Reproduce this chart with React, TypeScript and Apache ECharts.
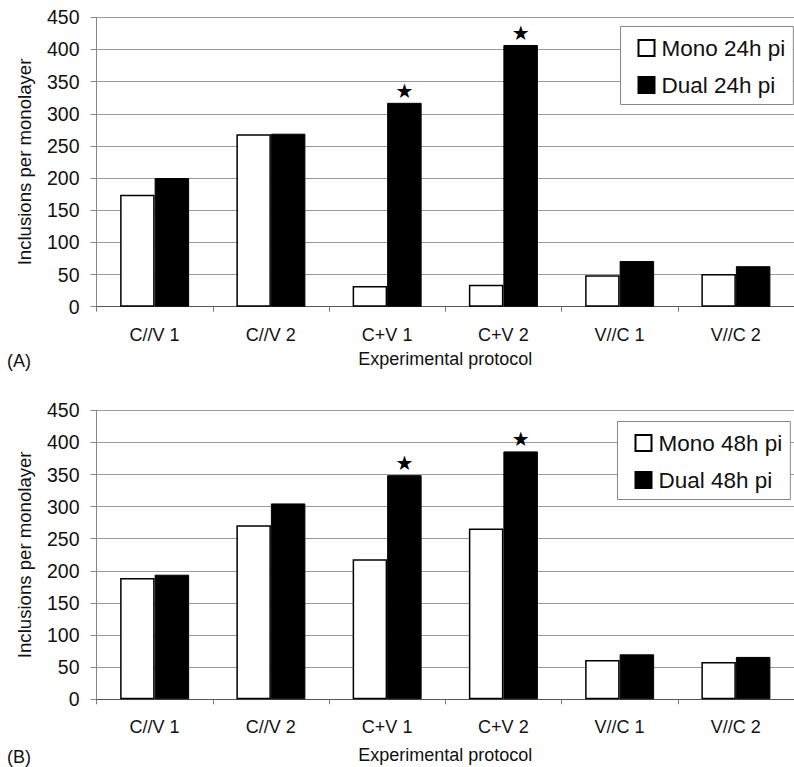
import { useEffect, useRef } from "react";
import * as echarts from "echarts";

// Experimental protocols on the category axis
const protocols = ["C//V 1", "C//V 2", "C+V 1", "C+V 2", "V//C 1", "V//C 2"];

// Panel A: 24 h post infection
const mono24 = [174, 268, 32, 34, 49, 51];
const dual24 = [200, 269, 317, 407, 71, 63];
const starred24 = [false, false, true, true, false, false];

// Panel B: 48 h post infection
const mono48 = [189, 271, 218, 266, 61, 58];
const dual48 = [194, 305, 349, 386, 70, 66];
const starred48 = [false, false, true, true, false, false];

// Value axis range
const yMin = 0;
const yMax = 450;
const yStep = 50;

const FONT = "'Liberation Sans', Arial, Helvetica, sans-serif";

function buildOption() {
  const grids = [
    { left: 96.5, top: 17.3, right: -10, height: 289.4 },
    { left: 96.5, top: 410.3, right: -10, height: 289 },
  ];

  const xAxis = [0, 1].map((i) => ({
    type: "category",
    gridIndex: i,
    data: protocols,
    boundaryGap: true,
    axisLine: { show: true, lineStyle: { color: "#555", width: 1 } },
    axisTick: { show: true, length: 5, lineStyle: { color: "#777" } },
    axisLabel: { margin: 19, fontSize: 18, color: "#111", fontFamily: FONT },
    splitLine: { show: false },
    name: "Experimental protocol",
    nameLocation: "middle",
    nameGap: i === 0 ? 43 : 47,
    nameTextStyle: { fontSize: 18, color: "#111", fontFamily: FONT },
  }));

  const yAxis = [0, 1].map((i) => ({
    type: "value",
    gridIndex: i,
    min: yMin,
    max: yMax,
    interval: yStep,
    axisLine: { show: true, lineStyle: { color: "#888", width: 1 } },
    axisTick: { show: true, length: 6, lineStyle: { color: "#888" } },
    axisLabel: { margin: 17, fontSize: 19.5, color: "#111", fontFamily: FONT },
    splitLine: { show: true, lineStyle: { color: "#9a9a9a", width: 1 } },
    name: "Inclusions per monolayer",
    nameLocation: "middle",
    nameGap: 63,
    nameTextStyle: { fontSize: 18.6, color: "#111", fontFamily: FONT },
  }));

  const starLabel = {
    show: false,
    position: "top",
    distance: 2,
    formatter: "\u2605",
    fontFamily: "'DejaVu Sans', sans-serif",
    fontSize: 20,
    color: "#000",
  };

  const withStars = (values: number[], flags: boolean[]) =>
    values.map((v, k) => ({ value: v, label: { show: flags[k] } }));

  const whiteBar = { color: "#fff", borderColor: "#000", borderWidth: 1.5 };
  const blackBar = { color: "#000", borderColor: "#000", borderWidth: 1 };

  const series = [
    {
      name: "Mono 24h pi",
      type: "bar",
      xAxisIndex: 0,
      yAxisIndex: 0,
      data: mono24,
      barWidth: 34.5,
      barGap: "0%",
      itemStyle: whiteBar,
    },
    {
      name: "Dual 24h pi",
      type: "bar",
      xAxisIndex: 0,
      yAxisIndex: 0,
      data: withStars(dual24, starred24),
      barWidth: 34.5,
      barGap: "0%",
      itemStyle: blackBar,
      label: starLabel,
    },
    {
      name: "Mono 48h pi",
      type: "bar",
      xAxisIndex: 1,
      yAxisIndex: 1,
      data: mono48,
      barWidth: 34.5,
      barGap: "0%",
      itemStyle: whiteBar,
    },
    {
      name: "Dual 48h pi",
      type: "bar",
      xAxisIndex: 1,
      yAxisIndex: 1,
      data: withStars(dual48, starred48),
      barWidth: 34.5,
      barGap: "0%",
      itemStyle: blackBar,
      label: starLabel,
    },
  ];

  const legendBase = {
    orient: "vertical",
    padding: [10, 8, 8, 17],
    itemGap: 14,
    itemWidth: 16,
    itemHeight: 16,
    icon: "rect",
    backgroundColor: "#fff",
    borderColor: "#888",
    borderWidth: 1,
    borderRadius: 0,
    textStyle: { fontSize: 22.5, color: "#111", fontFamily: FONT, padding: [0, 0, 0, 2] },
  };

  const legend = [
    { ...legendBase, left: 620.5, top: 26.5, data: ["Mono 24h pi", "Dual 24h pi"] },
    { ...legendBase, left: 617.5, top: 421.5, data: ["Mono 48h pi", "Dual 48h pi"] },
  ];

  const graphic = [
    {
      type: "text",
      left: 7,
      top: 352,
      style: { text: "(A)", fontSize: 18, fill: "#111", fontFamily: FONT },
    },
    {
      type: "text",
      left: 7,
      top: 748,
      style: { text: "(B)", fontSize: 18, fill: "#111", fontFamily: FONT },
    },
  ];

  return {
    animation: false,
    backgroundColor: "#fff",
    textStyle: { fontFamily: FONT },
    grid: grids,
    xAxis,
    yAxis,
    legend,
    series,
    graphic,
  };
}

export default function App() {
  const ref = useRef<HTMLDivElement>(null);

  useEffect(() => {
    if (!ref.current) return;
    const chart = echarts.init(ref.current, undefined, { renderer: "svg" });
    chart.setOption(buildOption() as any);
    return () => chart.dispose();
  }, []);

  return (
    <div
      ref={ref}
      style={{ position: "absolute", left: 0, top: 0, width: 794, height: 767 }}
    />
  );
}
